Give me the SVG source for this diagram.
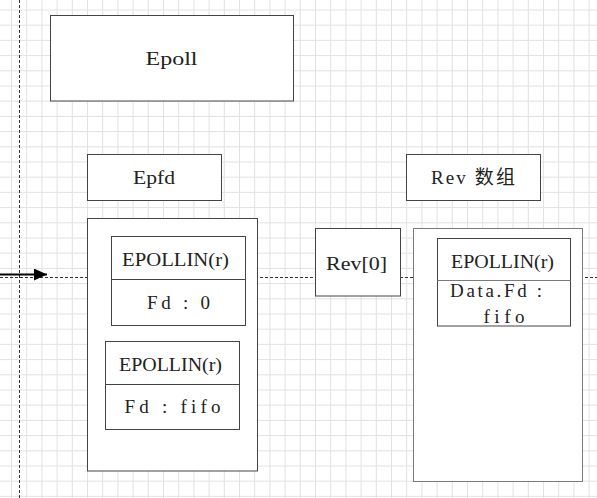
<svg xmlns="http://www.w3.org/2000/svg" width="597" height="498" viewBox="0 0 597 498">
<style>
.grid{stroke:#e2e2e2;stroke-width:1;fill:none}
.dash{stroke:#333;stroke-width:1;stroke-dasharray:3 2;fill:none}
.box{fill:#fff;stroke:#444;stroke-width:1}
.lite{fill:#fff;stroke:#7a7a7a;stroke-width:1}
.div{stroke:#444;stroke-width:1}
text{font-family:"Liberation Serif","Noto Sans CJK SC",serif;font-size:19px;fill:#222}
</style>
<defs>
<marker id="arr" markerWidth="13" markerHeight="12" refX="13" refY="6" orient="auto" markerUnits="userSpaceOnUse">
<path d="M0,0 L13,6 L0,12 Z" fill="#000"/>
</marker>
</defs>
<rect width="597" height="498" fill="#fff"/>
<path class="grid" d="M11.5,0V498M26.7,0V498M41.9,0V498M57.1,0V498M72.3,0V498M87.5,0V498M102.7,0V498M117.9,0V498M133.1,0V498M148.3,0V498M163.5,0V498M178.7,0V498M193.9,0V498M209.1,0V498M224.3,0V498M239.5,0V498M254.7,0V498M269.9,0V498M285.1,0V498M300.3,0V498M315.5,0V498M330.7,0V498M345.9,0V498M361.1,0V498M376.3,0V498M391.5,0V498M406.7,0V498M421.9,0V498M437.1,0V498M452.3,0V498M467.5,0V498M482.7,0V498M497.9,0V498M513.1,0V498M528.3,0V498M543.5,0V498M558.7,0V498M573.9,0V498M589.1,0V498
M0,10H597M0,25.2H597M0,40.4H597M0,55.6H597M0,70.8H597M0,86H597M0,101.2H597M0,116.4H597M0,131.6H597M0,146.8H597M0,162H597M0,177.2H597M0,192.4H597M0,207.6H597M0,222.8H597M0,238H597M0,253.2H597M0,268.4H597M0,283.6H597M0,298.8H597M0,314H597M0,329.2H597M0,344.4H597M0,359.6H597M0,374.8H597M0,390H597M0,405.2H597M0,420.4H597M0,435.6H597M0,450.8H597M0,466H597M0,481.2H597M0,496.4H597"/>
<g id="guides">
<path class="dash" d="M19.5,0V498"/>
<path class="dash" d="M0,277.5H597"/>
</g>
<g id="connectors">
<path d="M0,274.5H47" stroke="#000" stroke-width="2" fill="none" marker-end="url(#arr)"/>
</g>
<g id="epoll">
<rect class="box" x="50.5" y="15.5" width="243" height="85.5"/>
<text x="145.5" y="65" textLength="52" lengthAdjust="spacingAndGlyphs">Epoll</text>
</g>
<g id="epfd">
<rect class="box" x="87.5" y="154.5" width="134" height="46"/>
<text x="133" y="183.5" textLength="42" lengthAdjust="spacingAndGlyphs">Epfd</text>
</g>
<g id="epfd-container">
<rect class="box" x="87.5" y="218.5" width="170" height="252.5"/>
</g>
<g id="item-fd0">
<rect class="box" x="111.5" y="236.5" width="134" height="89"/>
<line class="div" x1="111.5" y1="279.5" x2="245.5" y2="279.5"/>
<text x="122" y="266" textLength="107" lengthAdjust="spacingAndGlyphs">EPOLLIN(r)</text>
<text x="147" y="308.5" textLength="63" lengthAdjust="spacing">Fd : 0</text>
</g>
<g id="item-fifo">
<rect class="box" x="105.5" y="341.5" width="134" height="88"/>
<line class="div" x1="105.5" y1="384.5" x2="239.5" y2="384.5"/>
<text x="119" y="370.5" textLength="103" lengthAdjust="spacingAndGlyphs">EPOLLIN(r)</text>
<text x="124.5" y="412.5" textLength="96" lengthAdjust="spacing">Fd : fifo</text>
</g>
<g id="rev-title">
<rect class="box" x="406.5" y="154.5" width="134" height="46"/>
<text x="431" y="183.5" textLength="84" lengthAdjust="spacing">Rev 数组</text>
</g>
<g id="rev0">
<rect class="box" x="315.5" y="228.5" width="85" height="67.5"/>
<text x="326" y="269.5" textLength="61" lengthAdjust="spacingAndGlyphs">Rev[0]</text>
</g>
<g id="rev-container">
<rect class="lite" x="413.5" y="228.5" width="169" height="253"/>
</g>
<g id="rev-item">
<rect class="box" x="437.5" y="238.5" width="133" height="87.5"/>
<line class="lite" x1="437.5" y1="280.5" x2="570.5" y2="280.5"/>
<text x="451" y="267.5" textLength="103" lengthAdjust="spacingAndGlyphs">EPOLLIN(r)</text>
<text x="450" y="296.5" textLength="92" lengthAdjust="spacing">Data.Fd :</text>
<text x="483.5" y="322.5" textLength="41" lengthAdjust="spacing">fifo</text>
</g>
</svg>
